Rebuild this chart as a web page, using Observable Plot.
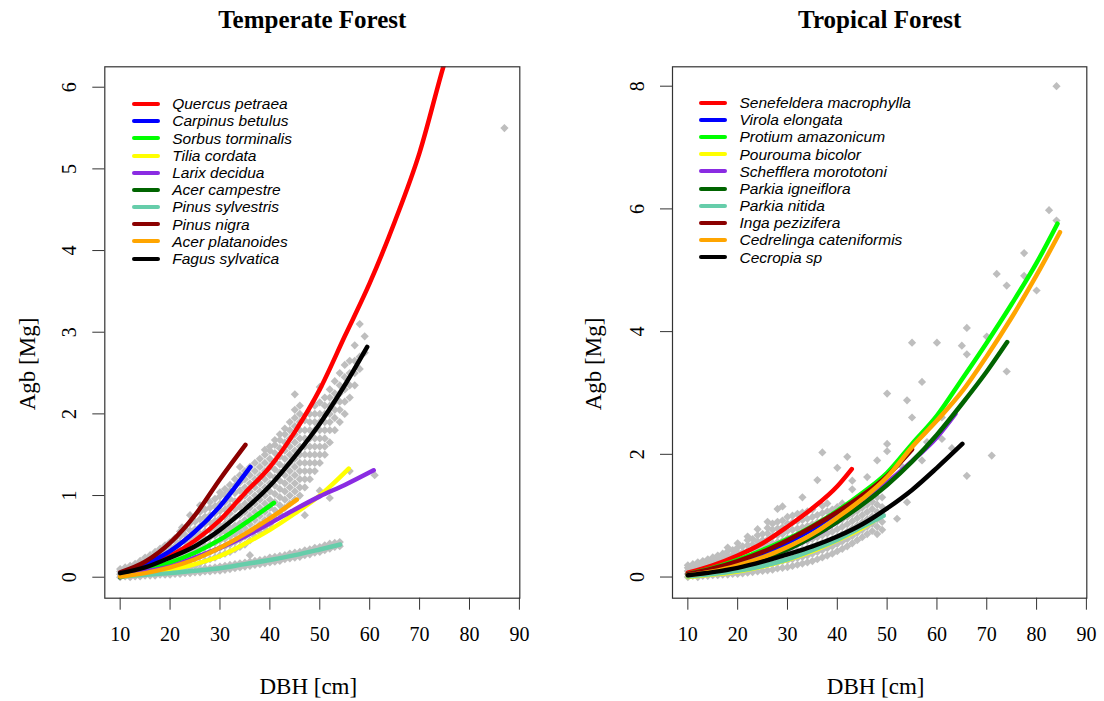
<!DOCTYPE html>
<html><head><meta charset="utf-8">
<script src="https://cdn.jsdelivr.net/npm/d3@7"></script>
<script src="https://cdn.jsdelivr.net/npm/@observablehq/plot@0.6"></script>
<style>
body{margin:0;background:#fff;}
#wrap{position:relative;width:1104px;height:701px;overflow:hidden;background:#fff;}
.panel{position:absolute;top:0;}
.legend{position:absolute;font-family:"Liberation Sans",Arial,sans-serif;font-style:italic;font-size:15.5px;color:#000;line-height:1;}
.row{display:flex;align-items:center;height:17.2px;white-space:nowrap;}
.sw{width:28px;height:4px;border-radius:2px;margin-right:12.5px;flex:none;}
.ylab{position:absolute;font-family:"Liberation Serif","Times New Roman",serif;font-size:23px;color:#000;white-space:nowrap;transform:translate(-50%,-50%) rotate(-90deg);line-height:1;}
</style></head><body><div id="wrap"></div>
<script>
// ---------- data ----------
const xTicks = [10, 20, 30, 40, 50, 60, 70, 80, 90];
const tempYTicks = [0, 1, 2, 3, 4, 5, 6];
const tropYTicks = [0, 2, 4, 6, 8];

const tempSpecies = ["Quercus petraea", "Carpinus betulus", "Sorbus torminalis", "Tilia cordata", "Larix decidua",
  "Acer campestre", "Pinus sylvestris", "Pinus nigra", "Acer platanoides", "Fagus sylvatica"];
const tropSpecies = ["Senefeldera macrophylla", "Virola elongata", "Protium amazonicum", "Pourouma bicolor", "Schefflera morototoni",
  "Parkia igneiflora", "Parkia nitida", "Inga pezizifera", "Cedrelinga cateniformis", "Cecropia sp"];
const speciesColors = ["#ff0000", "#0000ff", "#00ff00", "#ffff00", "#8a2be2", "#006400", "#66cdaa", "#8b0000", "#ffa500", "#000000"];

// fitted curves per species: [DBH, Agb]
const tempCurves = [
  [[10,0.05],[15,0.13],[20,0.26],[25,0.45],[30,0.7],[35,1.03],[40,1.35],[45,1.78],[50,2.3],[55,2.95],[60,3.6],[65,4.35],[70,5.2],[75,6.3],[76,6.5]],
  [[10,0.05],[15,0.16],[20,0.32],[25,0.56],[30,0.87],[33,1.1],[36.1,1.35]],
  [[10,0.035],[15,0.09],[20,0.18],[25,0.3],[30,0.46],[35,0.66],[40.8,0.91]],
  [[10,0.01],[15,0.04],[20,0.09],[25,0.16],[30,0.26],[35,0.41],[40,0.58],[45,0.78],[50,1.0],[55.8,1.33]],
  [[10,0.02],[15,0.07],[20,0.13],[25,0.24],[30,0.36],[35,0.5],[40,0.66],[45,0.83],[50,0.99],[55,1.13],[60.8,1.31]],
  [[10,0.0],[11.5,0.03]],
  [[10,0.01],[15,0.03],[20,0.05],[25,0.08],[30,0.11],[35,0.16],[40,0.21],[45,0.27],[50,0.34],[54.1,0.4]],
  [[10,0.06],[15,0.19],[20,0.42],[25,0.76],[30,1.2],[35.1,1.62]],
  [[10,0.01],[15,0.05],[20,0.12],[25,0.22],[30,0.36],[35,0.53],[40,0.72],[45.4,0.95]],
  [[10,0.05],[15,0.12],[20,0.24],[25,0.38],[30,0.58],[35,0.83],[40,1.12],[45,1.48],[50,1.88],[55,2.35],[59.5,2.82]]
];
const tropCurves = [
  [[10,0.07],[15,0.19],[20,0.35],[25,0.55],[30,0.82],[35,1.12],[40,1.48],[42.9,1.76]],
  [[10,0.05],[15,0.11],[20,0.22],[25,0.37],[30,0.56],[35,0.78],[40,1.05],[45,1.35],[48.9,1.57]],
  [[10,0.05],[15,0.15],[20,0.28],[25,0.44],[30,0.62],[35,0.83],[40,1.08],[45,1.37],[50,1.7],[55,2.17],[60,2.63],[65,3.22],[70,3.82],[75,4.45],[80,5.12],[84.2,5.76]],
  [[10,0.0],[15,0.04],[20,0.09],[25,0.17],[30,0.28],[35,0.42],[40,0.6],[45,0.8],[48.6,0.98]],
  [[10,0.03],[15,0.08],[20,0.16],[25,0.28],[30,0.45],[35,0.65],[40,0.9],[45,1.2],[50,1.54],[55,1.89],[60,2.28],[63.7,2.66]],
  [[10,0.03],[20,0.17],[30,0.45],[40,0.9],[50,1.5],[55,1.88],[60,2.32],[65,2.82],[70,3.35],[74.1,3.83]],
  [[10,0.01],[15,0.05],[20,0.1],[25,0.18],[30,0.29],[35,0.44],[40,0.61],[45,0.82],[49.3,1.0]],
  [[10,0.05],[15,0.14],[20,0.26],[25,0.41],[30,0.6],[35,0.82],[40,1.06],[45,1.33],[50,1.65],[55,2.08]],
  [[10,0.03],[15,0.09],[20,0.19],[25,0.32],[30,0.49],[35,0.7],[40,0.97],[45,1.27],[50,1.63],[55,2.12],[60,2.55],[65,3.02],[70,3.6],[75,4.23],[80,4.92],[84.7,5.62]],
  [[10,0.03],[15,0.08],[20,0.15],[25,0.25],[30,0.37],[35,0.5],[40,0.66],[45,0.86],[50,1.12],[55,1.42],[60,1.78],[65.1,2.17]]
];

// observed trees: [DBH, [Agb values]]
const tempPoints = [
  [10,[0.0,0.035,0.07,0.1]],[11,[0.01,0.045,0.08,0.12]],[12,[0.0,0.035,0.07,0.105,0.14]],
  [13,[0.01,0.045,0.08,0.12,0.165]],[14,[0.01,0.05,0.09,0.13,0.165,0.2]],[15,[0.02,0.06,0.1,0.14,0.19,0.24]],
  [16,[0.02,0.06,0.1,0.15,0.2,0.24,0.27]],[17,[0.02,0.07,0.12,0.17,0.22,0.27,0.31]],
  [18,[0.03,0.08,0.13,0.19,0.25,0.3,0.35]],[19,[0.03,0.08,0.14,0.2,0.26,0.32,0.39]],
  [20,[0.03,0.09,0.15,0.22,0.29,0.36,0.43]],[21,[0.04,0.1,0.17,0.24,0.31,0.38,0.45,0.48]],
  [22,[0.04,0.11,0.18,0.26,0.34,0.42,0.5,0.56]],[22.4,[0.61]],[23,[0.05,0.12,0.2,0.28,0.36,0.44,0.52,0.6]],
  [24,[0.05,0.12,0.21,0.3,0.39,0.48,0.57,0.66,0.76]],[25,[0.06,0.14,0.23,0.32,0.41,0.5,0.59,0.68]],
  [26,[0.06,0.1,0.17,0.26,0.35,0.44,0.53,0.62,0.71,0.8,0.88]],[27,[0.07,0.11,0.2,0.29,0.38,0.47,0.56,0.65,0.74,0.83]],
  [28,[0.07,0.11,0.22,0.31,0.4,0.49,0.58,0.67,0.76,0.85,0.92]],[29,[0.08,0.12,0.24,0.33,0.42,0.51,0.6,0.69,0.78,0.87,0.96]],
  [30,[0.08,0.13,0.27,0.36,0.45,0.54,0.63,0.72,0.81,0.9,0.99,1.04]],
  [31,[0.09,0.14,0.29,0.38,0.47,0.56,0.65,0.74,0.83,0.92,1.01,1.08]],
  [32,[0.1,0.15,0.31,0.4,0.5,0.6,0.69,0.78,0.87,0.96,1.05,1.13]],
  [33,[0.11,0.16,0.34,0.43,0.53,0.63,0.73,0.83,0.93,1.03,1.12,1.2]],
  [34,[0.12,0.17,0.37,0.46,0.56,0.66,0.76,0.86,0.96,1.06,1.16,1.25,1.35]],
  [35,[0.13,0.18,0.4,0.5,0.6,0.7,0.8,0.9,1.0,1.1,1.2,1.3]],
  [36,[0.14,0.19,0.27,0.45,0.55,0.65,0.75,0.85,0.95,1.05,1.15,1.25,1.35]],
  [37,[0.15,0.2,0.5,0.6,0.7,0.8,0.9,1.0,1.1,1.2,1.3,1.4]],
  [38,[0.16,0.21,0.55,0.65,0.75,0.85,0.95,1.05,1.15,1.25,1.35,1.45]],
  [39,[0.17,0.22,0.6,0.7,0.8,0.9,1.0,1.1,1.2,1.3,1.4,1.5,1.56]],
  [40,[0.18,0.24,0.65,0.75,0.85,0.95,1.05,1.15,1.25,1.35,1.45,1.55,1.6]],
  [41,[0.19,0.25,0.72,0.82,0.92,1.02,1.12,1.22,1.32,1.42,1.52,1.62,1.68]],
  [42,[0.2,0.26,0.78,0.88,0.98,1.08,1.18,1.28,1.38,1.48,1.58,1.68,1.75]],
  [43,[0.22,0.27,0.85,0.95,1.05,1.15,1.25,1.35,1.45,1.55,1.65,1.75,1.82]],
  [44,[0.23,0.29,0.9,1.0,1.1,1.2,1.3,1.4,1.5,1.6,1.7,1.8,1.9]],
  [45,[0.24,0.3,0.95,1.05,1.15,1.25,1.35,1.45,1.55,1.65,1.75,1.85,1.95,2.05,2.24]],
  [46,[0.25,0.31,1.0,1.1,1.2,1.3,1.4,1.5,1.6,1.7,1.8,1.9,2.0,2.1]],
  [47,[0.27,0.33,0.76,1.1,1.2,1.3,1.4,1.5,1.6,1.7,1.8,1.92]],
  [48,[0.28,0.34,1.2,1.3,1.4,1.5,1.6,1.7,1.8,1.9,2.0]],
  [49,[0.3,0.36,1.3,1.4,1.5,1.6,1.7,1.8,1.9,2.0,2.1]],
  [50,[0.31,0.37,1.06,1.4,1.5,1.6,1.7,1.8,1.9,2.0,2.14,2.33]],
  [51,[0.33,0.39,1.5,1.6,1.7,1.8,1.9,2.0,2.1,2.2]],
  [52,[0.35,0.41,0.97,1.65,1.8,1.9,2.0,2.1,2.2,2.3]],
  [53,[0.37,0.42,1.8,1.95,2.05,2.15,2.25,2.4]],
  [54,[0.38,0.43,1.9,2.05,2.15,2.25,2.35,2.5]],
  [55,[2.0,2.15,2.3,2.45,2.6]],[56,[1.3,2.2,2.35,2.5,2.65]],[57,[2.35,2.5,2.65,2.84]],
  [58,[2.55,2.7,3.1]],[59,[2.75,2.95]],[61,[1.25]],[87,[5.5]]
];
const tropPoints = [
  [10,[0.0,0.05,0.1,0.15,0.19]],[11,[0.02,0.07,0.12,0.17,0.21]],[12,[0.0,0.05,0.1,0.15,0.2,0.24]],
  [13,[0.02,0.07,0.12,0.17,0.22,0.26]],[14,[0.02,0.07,0.13,0.19,0.25,0.29]],[15,[0.03,0.09,0.15,0.21,0.27,0.32]],
  [16,[0.03,0.09,0.16,0.23,0.3,0.35]],[17,[0.04,0.1,0.17,0.24,0.31,0.38]],[18,[0.04,0.11,0.19,0.27,0.35,0.42,0.48]],
  [19,[0.05,0.12,0.2,0.28,0.36,0.44]],[20,[0.05,0.13,0.22,0.31,0.4,0.48,0.55]],[21,[0.06,0.14,0.23,0.32,0.41,0.5]],
  [22,[0.07,0.16,0.25,0.34,0.43,0.52,0.6,0.66]],[23,[0.08,0.17,0.26,0.35,0.44,0.53,0.62]],
  [24,[0.09,0.18,0.28,0.38,0.48,0.58,0.68,0.78]],[25,[0.1,0.2,0.3,0.4,0.5,0.6,0.7]],
  [26,[0.11,0.21,0.31,0.41,0.51,0.61,0.71,0.8,0.9]],[27,[0.12,0.22,0.33,0.44,0.55,0.66,0.77,0.87]],
  [28,[0.14,0.24,0.35,0.46,0.57,0.68,0.79,0.9,1.11]],[29,[0.15,0.26,0.37,0.48,0.59,0.7,0.81,0.92,1.15]],
  [30,[0.16,0.27,0.39,0.51,0.63,0.75,0.87,0.98]],[31,[0.18,0.29,0.41,0.53,0.65,0.77,0.89,1.0]],
  [32,[0.2,0.31,0.43,0.55,0.67,0.79,0.91,1.03]],[33,[0.22,0.33,0.45,0.57,0.69,0.81,0.93,1.05,1.3]],
  [34,[0.24,0.35,0.47,0.59,0.71,0.83,0.95,1.07]],[35,[0.26,0.38,0.5,0.62,0.74,0.86,0.98,1.1]],
  [36,[0.29,0.41,0.53,0.65,0.77,0.89,1.01,1.58]],[37,[0.32,0.44,0.56,0.68,0.8,0.92,1.04,1.16,2.03]],
  [38,[0.35,0.47,0.59,0.71,0.83,0.95,1.07,1.2]],[39,[0.38,0.5,0.62,0.74,0.86,0.98,1.1]],
  [40,[0.42,0.54,0.66,0.78,0.9,1.02,1.14,1.78]],[41,[0.46,0.58,0.7,0.82,0.94,1.06,1.2]],
  [42,[0.5,0.62,0.74,0.86,0.98,1.1,1.96]],[43,[0.55,0.67,0.79,0.91,1.03,1.15,1.43,1.57]],
  [44,[0.6,0.72,0.84,0.96,1.08,1.2]],[45,[0.65,0.77,0.89,1.01,1.13,1.25]],
  [46,[0.7,0.82,0.94,1.06,1.18,1.3,1.63]],[47,[0.75,0.87,0.99,1.11,1.23,1.4]],
  [48,[0.7,0.82,0.94,1.06,1.18,1.3,1.5,1.9]],[49,[0.77,0.9,1.02,1.14,1.3,1.6]],
  [50,[2.05,2.17,2.99]],[52,[0.95]],[53,[1.8]],[54,[1.22,2.88]],[55,[2.6,3.82]],[57,[1.9,3.18]],[58,[2.2]],
  [60,[3.82]],[61,[2.25,2.6]],[63,[2.1]],[65,[3.77]],[66,[1.65,3.63,4.06]],[70,[3.92]],[71,[1.98]],[72,[4.94]],
  [74,[3.35,4.75]],[77.5,[4.91,5.28]],[80,[4.67]],[82.5,[5.98]],[84,[5.81,8.0]]
];

// ---------- drawing ----------
function panel({title, species, curves, points, yTicks, yDomain, marginLeft, marginRight}) {
  const lines = curves.flatMap((c, i) => c.map(([x, y]) => ({sp: species[i], x, y})));
  const pts = points.flatMap(([x, ys]) => ys.map(y => ({x, y})));
  return Plot.plot({
    width: 552, height: 701,
    marginTop: 66.3, marginBottom: 103.3, marginLeft, marginRight,
    x: {domain: [6.92, 90.08]},
    y: {domain: yDomain},
    color: {domain: species, range: speciesColors},
    style: {fontFamily: "'Liberation Serif', 'Times New Roman', serif", color: "#000", background: "transparent"},
    marks: [
      Plot.dot(pts, {x: "x", y: "y", symbol: "diamond2", r: 3.7, fill: "#bebebe"}),
      Plot.line(lines, {x: "x", y: "y", z: "sp", stroke: "sp", strokeWidth: 4.5, curve: "monotone-x", clip: true}),
      Plot.frame({stroke: "#333", strokeWidth: 1.2}),
      Plot.axisX({ticks: xTicks, tickFormat: d => String(d), tickSize: 12, tickPadding: 17, fontSize: 20, label: null, stroke: "#333"}),
      Plot.axisY({ticks: yTicks, tickFormat: d => String(d), tickSize: 12, tickPadding: 23, fontSize: 20, label: null, stroke: "#333",
        tickRotate: -90, textAnchor: "middle", lineAnchor: "middle"}),
      Plot.text([title], {frameAnchor: "top", dy: -39, lineAnchor: "bottom", fontSize: 25, fontWeight: "bold"}),
      Plot.text(["DBH [cm]"], {frameAnchor: "bottom", dx: -4, dy: 96, lineAnchor: "bottom", fontSize: 23})
    ]
  });
}

function legend(species, left, top) {
  const d = document.createElement("div");
  d.className = "legend";
  d.style.left = left + "px";
  d.style.top = top + "px";
  species.forEach((s, i) => {
    const r = document.createElement("div");
    r.className = "row";
    const sw = document.createElement("span");
    sw.className = "sw";
    sw.style.background = speciesColors[i];
    const t = document.createElement("span");
    t.textContent = s;
    r.appendChild(sw); r.appendChild(t);
    d.appendChild(r);
  });
  return d;
}

function ylabel(text, cx, cy) {
  const d = document.createElement("div");
  d.className = "ylab";
  d.textContent = text;
  d.style.left = cx + "px";
  d.style.top = cy + "px";
  return d;
}

const wrap = document.getElementById("wrap");
const left = panel({title: "Temperate Forest", species: tempSpecies, curves: tempCurves, points: tempPoints,
  yTicks: tempYTicks, yDomain: [-0.257, 6.25], marginLeft: 104.3, marginRight: 32.7});
left.classList.add("panel"); left.style.left = "0px";
const right = panel({title: "Tropical Forest", species: tropSpecies, curves: tropCurves, points: tropPoints,
  yTicks: tropYTicks, yDomain: [-0.345, 8.316], marginLeft: 120, marginRight: 17.7});
right.classList.add("panel"); right.style.left = "552px";
wrap.appendChild(left);
wrap.appendChild(right);
wrap.appendChild(legend(tempSpecies, 131.7, 95.4));
wrap.appendChild(legend(tropSpecies, 699, 94.1));
wrap.appendChild(ylabel("Agb [Mg]", 27, 364));
wrap.appendChild(ylabel("Agb [Mg]", 593, 364));
</script>
</body></html>
